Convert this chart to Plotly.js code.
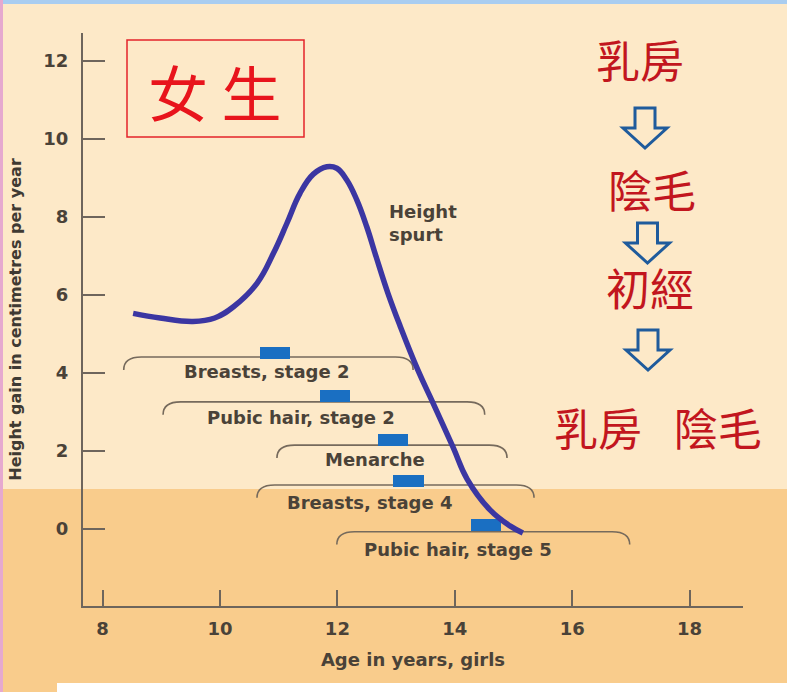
<!DOCTYPE html>
<html>
<head>
<meta charset="utf-8">
<script src="https://cdn.plot.ly/plotly-3.0.1.min.js"></script>
<style>html,body{margin:0;padding:0;background:#fde9c8;}#chart{width:787px;height:692px;}</style>
</head>
<body>
<div id="chart"></div>
<script>
// ---- data ----
const ageYears   = [8.52, 8.98, 9.54, 9.91, 10.23, 10.63, 10.91, 11.14, 11.36, 11.59, 11.82, 11.99, 12.16, 12.33, 12.50, 12.66, 12.86, 13.07, 13.37, 13.63, 13.97, 14.21, 14.60, 14.94, 15.16];
const heightGain = [5.53, 5.41, 5.32, 5.41, 5.70, 6.30, 7.07, 7.84, 8.60, 9.10, 9.29, 9.25, 8.95, 8.44, 7.75, 6.98, 6.05, 5.20, 4.08, 3.23, 2.10, 1.28, 0.49, 0.08, -0.10];

const stageLabels = ['Breasts, stage 2', 'Pubic hair, stage 2', 'Menarche', 'Breasts, stage 4', 'Pubic hair, stage 5'];
const meanAge     = [10.94, 11.96, 12.95, 13.21, 14.53];
const meanRowY    = [4.51, 3.41, 2.28, 1.23, 0.10];
const rangeStart  = [8.36, 9.03, 10.97, 10.63, 11.99];
const rangeEnd    = [13.29, 14.51, 14.89, 15.35, 16.98];
const rangeY      = [4.41, 3.26, 2.15, 1.13, -0.07];
const labelX      = [10.80, 11.38, 12.64, 12.54, 14.06];
const labelY      = [4.03, 2.86, 1.77, 0.69, -0.53];

const xTicks = [8, 10, 12, 14, 16, 18];
const yTicks = [0, 2, 4, 6, 8, 10, 12];

const sequenceText = ['乳房', '陰毛', '初經', '乳房 \u2002陰毛'];

// ---- layout helpers (pixel -> paper) ----
const PL = 83, PR = 743, PT = 33, PB = 606;
const px = x => (x - PL) / (PR - PL);
const py = y => (PB - y) / (PB - PT);

const textFont = {family: 'DejaVu Sans, Arial, sans-serif', size: 18, weight: 'bold', color: '#4a4238'};
const axisCol = '#6e655c';
const HOOK_W = 0.3, HOOK_D = 0.33, BAR_HALF = 0.26;

const traces = [
  {
    type: 'scatter', mode: 'lines', x: ageYears, y: heightGain,
    line: {color: '#3b36a2', width: 5.5, shape: 'spline', smoothing: 1.2},
    hoverinfo: 'skip', showlegend: false
  },
  {
    type: 'bar', orientation: 'h',
    y: meanRowY, base: meanAge.map(a => a - BAR_HALF), x: meanAge.map(() => 2 * BAR_HALF),
    width: 0.3, marker: {color: '#1a6fc2', line: {width: 0}},
    text: stageLabels, hoverinfo: 'text', textposition: 'none', showlegend: false
  }
];

const shapes = [];
// background band & frame strips
shapes.push({type: 'rect', xref: 'paper', yref: 'paper', x0: px(0), x1: px(787), y0: py(692), y1: py(489), fillcolor: '#f9cc8c', line: {width: 0}, layer: 'below'});
shapes.push({type: 'rect', xref: 'paper', yref: 'paper', x0: px(0), x1: px(787), y0: py(4), y1: py(0), fillcolor: '#a9cdf0', line: {width: 0}, layer: 'below'});
shapes.push({type: 'rect', xref: 'paper', yref: 'paper', x0: px(0), x1: px(3), y0: py(692), y1: py(0), fillcolor: '#e6a9cf', line: {width: 0}, layer: 'below'});
shapes.push({type: 'rect', xref: 'paper', yref: 'paper', x0: px(57), x1: px(787), y0: py(692), y1: py(683), fillcolor: '#ffffff', line: {width: 0}, layer: 'below'});
// red title box
shapes.push({type: 'rect', xref: 'paper', yref: 'paper', x0: px(127), x1: px(304), y0: py(137), y1: py(40), line: {color: '#e3232a', width: 1.5}, fillcolor: 'rgba(0,0,0,0)'});
// range brackets (data coords)
for (let i = 0; i < stageLabels.length; i++) {
  const L = rangeStart[i], R = rangeEnd[i], yl = rangeY[i], yh = rangeY[i] - HOOK_D;
  shapes.push({
    type: 'path', xref: 'x', yref: 'y',
    path: `M ${L},${yh} Q ${L},${yl} ${L + HOOK_W},${yl} L ${R - HOOK_W},${yl} Q ${R},${yl} ${R},${yh}`,
    line: {color: '#766a5c', width: 1.6}, layer: 'below'
  });
}
// hollow down arrows
function arrow(cx, top, tip) {
  const mid = tip - 20, sw = 10, hw = 22;
  const P = (x, y) => `${px(x)},${py(y)}`;
  return {type: 'path', xref: 'paper', yref: 'paper',
    path: `M ${P(cx - sw, top)} L ${P(cx + sw, top)} L ${P(cx + sw, mid)} L ${P(cx + hw, mid)} L ${P(cx, tip)} L ${P(cx - hw, mid)} L ${P(cx - sw, mid)} Z`,
    line: {color: '#1f5b9c', width: 3}, fillcolor: 'rgba(0,0,0,0)'};
}
shapes.push(arrow(645, 108, 148));
shapes.push(arrow(647.5, 223, 263));
shapes.push(arrow(648, 330, 370));

const annotations = [];
for (let i = 0; i < stageLabels.length; i++) {
  annotations.push({x: labelX[i], y: labelY[i], xref: 'x', yref: 'y', text: stageLabels[i], showarrow: false, font: textFont, xanchor: 'center', yanchor: 'middle'});
}
annotations.push({x: 12.84, y: 7.85, xref: 'x', yref: 'y', text: 'Height<br>spurt', showarrow: false, font: textFont, xanchor: 'left', yanchor: 'middle', align: 'left'});
annotations.push({x: px(214), y: py(90), xref: 'paper', yref: 'paper', text: '女 生', showarrow: false, font: {family: 'Noto Sans CJK TC', size: 60, color: '#e8141c'}, xanchor: 'center', yanchor: 'middle'});
const seqPos = [[640, 59], [652, 189], [650, 287], [658, 427]];
for (let i = 0; i < sequenceText.length; i++) {
  annotations.push({x: px(seqPos[i][0]), y: py(seqPos[i][1]), xref: 'paper', yref: 'paper', text: sequenceText[i], showarrow: false, font: {family: 'Noto Sans CJK TC', size: 44, color: '#c2161e'}, xanchor: 'center', yanchor: 'middle'});
}

const layout = {
  width: 787, height: 692,
  margin: {l: PL, r: 787 - PR, t: PT, b: 692 - PB, pad: 0},
  paper_bgcolor: '#fde9c8', plot_bgcolor: 'rgba(0,0,0,0)',
  showlegend: false, bargap: 0,
  xaxis: {
    range: [7.666, 18.91], tickvals: xTicks, ticktext: xTicks.map(String),
    ticks: 'inside', ticklen: 16, tickwidth: 2, tickcolor: axisCol,
    showline: true, linecolor: axisCol, linewidth: 2, showgrid: false, zeroline: false,
    tickfont: textFont, ticklabelstandoff: 5,
    title: {text: 'Age in years, girls', font: textFont, standoff: 16}
  },
  yaxis: {
    range: [-1.974, 12.718], tickvals: yTicks, ticktext: yTicks.map(String),
    ticks: 'inside', ticklen: 22, tickwidth: 2, tickcolor: axisCol,
    showline: true, linecolor: axisCol, linewidth: 2, showgrid: false, zeroline: false,
    tickfont: textFont, ticklabelstandoff: 9,
    title: {text: 'Height gain in centimetres per year', font: {family: 'DejaVu Sans, Arial, sans-serif', size: 16, weight: 'bold', color: '#3f3a33'}, standoff: 18}
  },
  shapes: shapes,
  annotations: annotations
};

Plotly.newPlot('chart', traces, layout, {displayModeBar: false, staticPlot: true});
</script>
</body>
</html>
